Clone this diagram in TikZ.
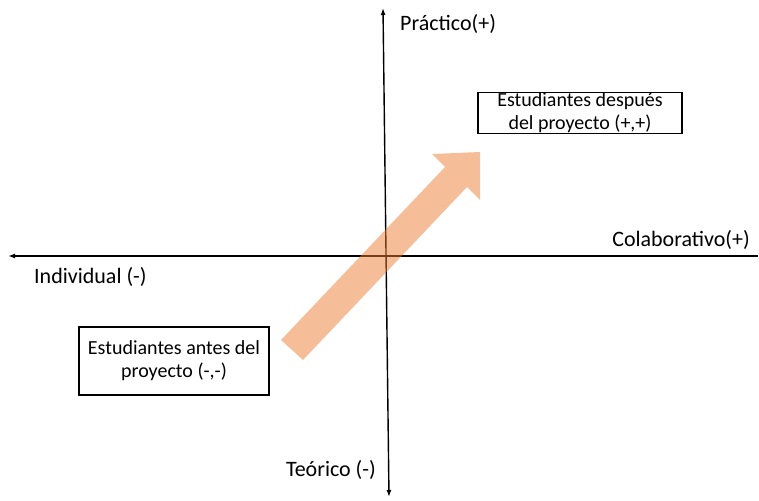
\documentclass[tikz,border=0pt]{standalone}
\usepackage{fontspec}
\setmainfont{Carlito}
\usetikzlibrary{arrows.meta}
\definecolor{shiftorange}{RGB}{237,125,49}
\tikzset{
  axisline/.style={line width=1.4pt},
  tip/.tip={Latex[length=7pt,width=5pt]},
  statebox/.style={draw, line width=1.1pt, align=center, font=\fontsize{20}{23}\selectfont, inner sep=0pt},
  axislabel/.style={font=\fontsize{22}{24}\selectfont, inner sep=0pt},
  shiftarrow/.style={fill=shiftorange, fill opacity=0.5, draw=none}
}
\begin{document}
\begin{tikzpicture}[x=1pt,y=-1pt]
  \useasboundingbox (0,0) rectangle (759,500);
  % axis end points
  \coordinate (top) at (383,8);
  \coordinate (bottom) at (389,497);
  \coordinate (left) at (8,256);
  \coordinate (right) at (758,256);
  \draw[axisline, tip-tip] (bottom) -- (top);
  \draw[axisline, -tip] (right) -- (left);
  % axis labels
  \node[axislabel, anchor=west] (prac) at (400,24) {Práctico(+)};
  \node[axislabel, anchor=east] (colab) at (750,240) {Colaborativo(+)};
  \node[axislabel, anchor=west] (indiv) at (34,277) {Individual (-)};
  \node[axislabel, anchor=east] (teor) at (376,470) {Teórico (-)};
  % student groups
  \node[statebox, minimum width=204pt, minimum height=36pt] (after) at (580,113)
    {Estudiantes después\\del proyecto (+,+)};
  \node[statebox, minimum width=190pt, minimum height=68pt] (before) at (174,361)
    {Estudiantes antes del\\proyecto (-,-)};
  % shift from before to after
  \draw[shiftarrow] (281,340) -- (445,167) -- (432,154) -- (480,152) -- (480,200)
    -- (467,187) -- (303,360) -- cycle;
\end{tikzpicture}
\end{document}
